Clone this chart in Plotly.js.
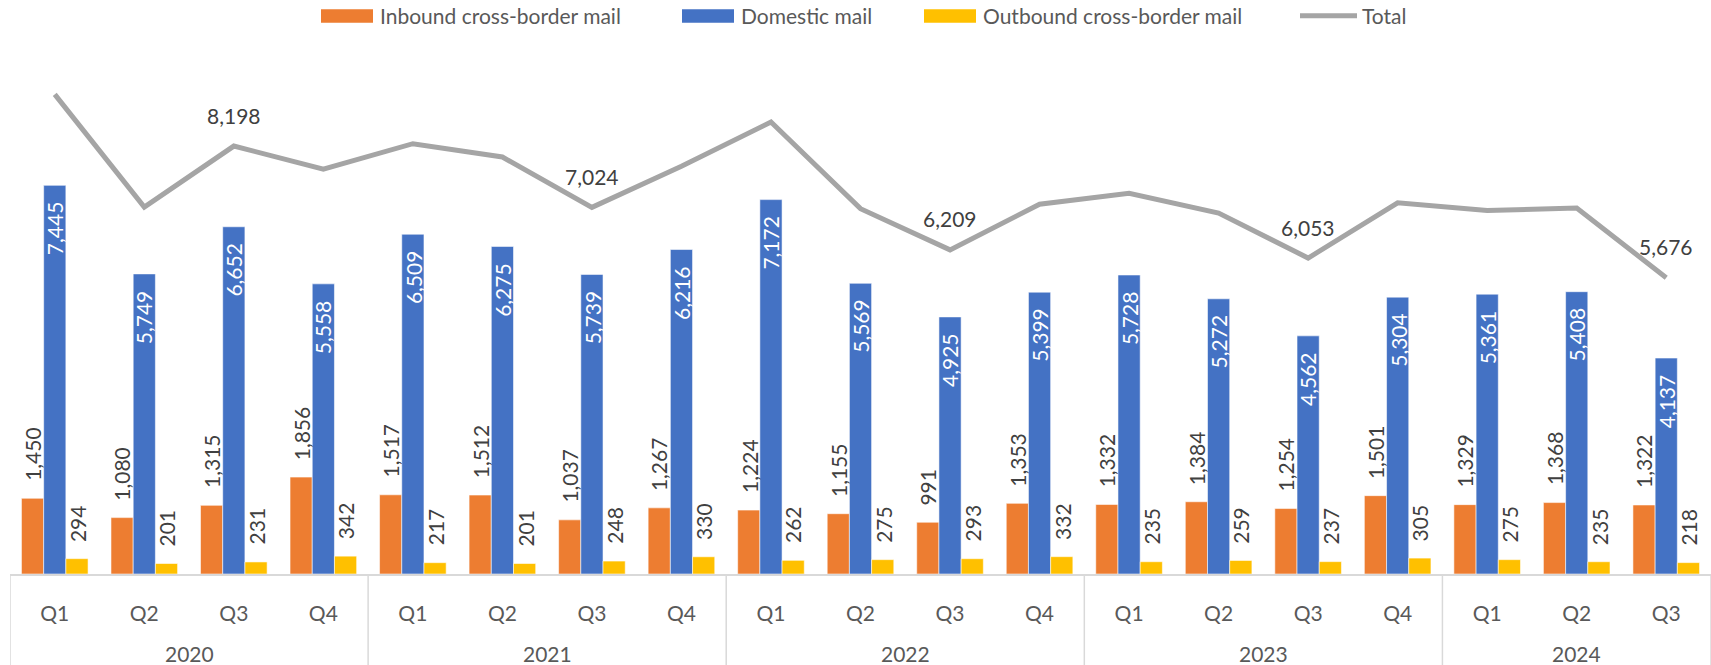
<!DOCTYPE html>
<html>
<head>
<meta charset="utf-8">
<script src="https://cdn.plot.ly/plotly-3.0.1.min.js"></script>
<style>html,body{margin:0;padding:0;background:#fff;}#chart{width:1711px;height:665px;}</style>
</head>
<body>
<div id="chart"></div>
<script>
// ---- data ----
const years    = ['2020','2020','2020','2020','2021','2021','2021','2021','2022','2022','2022','2022','2023','2023','2023','2023','2024','2024','2024'];
const quarters = ['Q1','Q2','Q3','Q4','Q1','Q2','Q3','Q4','Q1','Q2','Q3','Q4','Q1','Q2','Q3','Q4','Q1','Q2','Q3'];
const inbound  = [1450,1080,1315,1856,1517,1512,1037,1267,1224,1155,991,1353,1332,1384,1254,1501,1329,1368,1322];
const domestic = [7445,5749,6652,5558,6509,6275,5739,6216,7172,5569,4925,5399,5728,5272,4562,5304,5361,5408,4137];
const outbound = [294,201,231,342,217,201,248,330,262,275,293,332,235,259,237,305,275,235,218];
const total    = [9189,7030,8198,7756,8243,7988,7024,7813,8658,6999,6209,7084,7295,6915,6053,7110,6965,7011,5676];
const seriesNames = ['Inbound cross-border mail','Domestic mail','Outbound cross-border mail','Total'];
const colors = ['#ED7D31','#4472C4','#FFC000','#A5A5A5'];

// ---- layout helpers ----
const W = 1711, H = 665;
const M = {l: 10, r: 0, t: 52, b: 91};
const PW = W - M.l - M.r, PH = H - M.t - M.b;
const px2x = px => (px - M.l) / PW;
const py2y = py => (H - M.b - py) / PH;
const FONT = 'Lato, "Noto Sans", sans-serif';
const BARGAP = 0.256;

const cats = years.map((y, i) => y + ' ' + quarters[i]);
const fmt = v => v.toLocaleString('en-US');

const barSeries = [inbound, domestic, outbound];
const traces = barSeries.map((vals, k) => ({
  type: 'bar', name: seriesNames[k], x: cats, y: vals,
  marker: {color: colors[k], line: {color: 'rgba(255,255,255,0.55)', width: 1}},
  hoverinfo: 'x+y+name', showlegend: false
}));
traces.push({
  type: 'scatter', mode: 'lines', name: seriesNames[3], x: cats, y: total,
  line: {color: colors[3], width: 5}, showlegend: false
});

const annotations = [];
const shapes = [];

// bar value labels (rotated)
const slot = (1 - BARGAP) / 3;
barSeries.forEach((vals, k) => {
  vals.forEach((v, i) => {
    const inside = (k === 1);
    annotations.push({
      xref: 'x', yref: 'y', x: i + (k - 1) * slot, y: v,
      text: fmt(v), showarrow: false, textangle: -90,
      xanchor: 'center', yanchor: inside ? 'top' : 'bottom',
      yshift: inside ? -14 : 15,
      font: {family: FONT, size: 21, color: inside ? '#FFFFFF' : '#404040'}
    });
  });
});

// total labels on Q3 points
total.forEach((v, i) => {
  if (quarters[i] === 'Q3') {
    annotations.push({
      xref: 'x', yref: 'y', x: i, y: v, text: fmt(v), showarrow: false,
      xanchor: 'center', yanchor: 'middle', yshift: 31,
      font: {family: FONT, size: 21, color: '#404040'}
    });
  }
});

// year group labels + dividers
const groups = [];
years.forEach((y, i) => {
  if (i === 0 || y !== years[i - 1]) groups.push({year: y, start: i, end: i});
  else groups[groups.length - 1].end = i;
});
groups.forEach(g => {
  annotations.push({
    xref: 'x', yref: 'paper', x: (g.start + g.end) / 2, y: py2y(653),
    text: g.year, showarrow: false, xanchor: 'center', yanchor: 'middle',
    font: {family: FONT, size: 21, color: '#595959'}
  });
  shapes.push({type: 'line', xref: 'x', yref: 'paper', x0: g.start - 0.5, x1: g.start - 0.5,
    y0: 0, y1: py2y(670), line: {color: '#D9D9D9', width: 1.5}});
});
shapes.push({type: 'line', xref: 'x', yref: 'paper', x0: years.length - 0.5, x1: years.length - 0.5,
  y0: 0, y1: py2y(670), line: {color: '#D9D9D9', width: 1.5}});

// custom legend
const legendItems = [
  {k: 0, x0: 321, x1: 373, tx: 378},
  {k: 1, x0: 682, x1: 734, tx: 739},
  {k: 2, x0: 924, x1: 976, tx: 981},
  {k: 3, x0: 1300, x1: 1357, tx: 1360}
];
legendItems.forEach(it => {
  if (it.k < 3) {
    shapes.push({type: 'rect', xref: 'paper', yref: 'paper',
      x0: px2x(it.x0), x1: px2x(it.x1), y0: py2y(22.7), y1: py2y(9.3),
      fillcolor: colors[it.k], line: {width: 0}});
  } else {
    shapes.push({type: 'line', xref: 'paper', yref: 'paper',
      x0: px2x(it.x0), x1: px2x(it.x1), y0: py2y(15.8), y1: py2y(15.8),
      line: {color: colors[3], width: 5}});
  }
  annotations.push({xref: 'paper', yref: 'paper', x: px2x(it.tx), y: py2y(15.5),
    text: seriesNames[it.k], showarrow: false, xanchor: 'left', yanchor: 'middle',
    font: {family: FONT, size: 21, color: '#595959'}});
});

const layout = {
  width: W, height: H, margin: M,
  paper_bgcolor: '#FFFFFF', plot_bgcolor: '#FFFFFF',
  font: {family: FONT, color: '#595959'},
  barmode: 'group', bargap: BARGAP, bargroupgap: 0,
  showlegend: false,
  xaxis: {
    type: 'category', range: [-0.5, years.length - 0.5],
    tickmode: 'array', tickvals: cats, ticktext: quarters,
    showline: true, linecolor: '#D9D9D9', linewidth: 1.5,
    ticks: 'outside', ticklen: 20, tickcolor: 'rgba(0,0,0,0)',
    tickfont: {family: FONT, size: 21, color: '#595959'},
    showgrid: false, zeroline: false, fixedrange: true
  },
  yaxis: {
    range: [0, 10000], showgrid: false, zeroline: false,
    showticklabels: false, ticks: '', showline: false, fixedrange: true
  },
  annotations: annotations,
  shapes: shapes
};

Plotly.newPlot('chart', traces, layout, {displayModeBar: false, staticPlot: true});
</script>
</body>
</html>
